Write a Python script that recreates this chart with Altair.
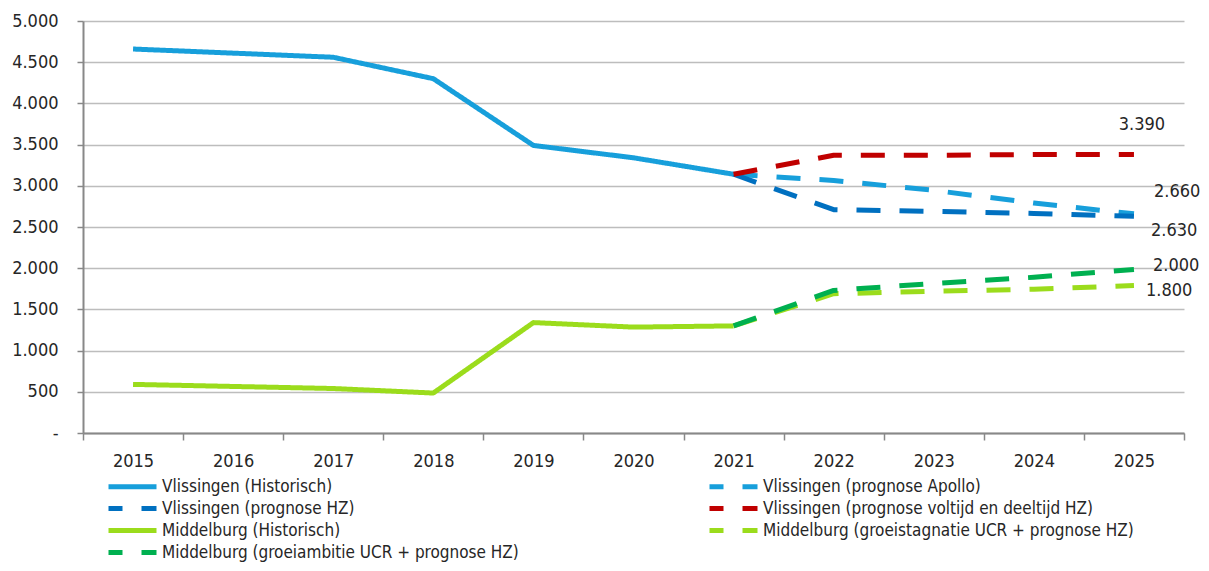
import altair as alt
import pandas as pd

FONT = "DejaVu Sans Condensed, sans-serif"

years = ["2015", "2016", "2017", "2018", "2019", "2020", "2021", "2022", "2023", "2024", "2025"]
hist_years = years[:7]
prog_years = years[6:]

series_names = [
    "Vlissingen (Historisch)",
    "Vlissingen (prognose Apollo)",
    "Vlissingen (prognose HZ)",
    "Vlissingen (prognose voltijd en deeltijd HZ)",
    "Middelburg (Historisch)",
    "Middelburg (groeistagnatie UCR + prognose HZ)",
    "Middelburg (groeiambitie UCR + prognose HZ)",
]
series_colors = ["#179fdb", "#179fdb", "#0070c0", "#c00000", "#9bdc1c", "#9bdc1c", "#00b050"]
series_dash = [[1, 0], [24, 19], [24, 19], [24, 19], [1, 0], [24, 19], [24, 19]]

vl_hist = [4660, 4610, 4560, 4300, 3490, 3340, 3140]
vl_apollo = [3140, 3065, 2945, 2790, 2660]
vl_hz = [3140, 2710, 2690, 2665, 2630]
vl_voltijd = [3140, 3370, 3370, 3380, 3380]
mb_hist = [590, 565, 540, 485, 1340, 1285, 1300]
mb_stagnatie = [1300, 1690, 1720, 1745, 1790]
mb_ambitie = [1300, 1730, 1815, 1890, 1985]

label_values = [3390, 2660, 2630, 2000, 1800]
label_dx = [8, 20, 17, 19, 12]
label_dy = [-29, -22, 15, -2, 6]
label_align = ["center", "left", "left", "left", "left"]

rows = []
for name, yrs, vals in [
    (series_names[0], hist_years, vl_hist),
    (series_names[1], prog_years, vl_apollo),
    (series_names[2], prog_years, vl_hz),
    (series_names[3], prog_years, vl_voltijd),
    (series_names[4], hist_years, mb_hist),
    (series_names[5], prog_years, mb_stagnatie),
    (series_names[6], prog_years, mb_ambitie),
]:
    for y, v in zip(yrs, vals):
        rows.append({"Reeks": name, "Jaar": y, "Aantal": v})
df = pd.DataFrame(rows)

x_enc = alt.X(
    "Jaar:O",
    scale=alt.Scale(type="band", domain=years, paddingInner=0, paddingOuter=0),
    axis=alt.Axis(
        title=None, labelAngle=0, tickBand="extent", tickSize=7, tickColor="#888888",
        tickWidth=1.5, domainColor="#888888", domainWidth=2, labelPadding=12,
        labelFont=FONT, labelFontSize=18, labelColor="#262626", grid=False,
    ),
)
y_enc = alt.Y(
    "Aantal:Q",
    scale=alt.Scale(domain=[0, 5000], nice=False),
    axis=alt.Axis(
        title=None, values=list(range(0, 5001, 500)), grid=True, gridColor="#bdbdbd",
        gridWidth=1.5, tickSize=6, tickColor="#888888", tickWidth=1.5,
        domainColor="#888888", domainWidth=2, labelPadding=19, labelFont=FONT,
        labelFontSize=18, labelColor="#262626",
        labelExpr="datum.value == 0 ? '-\u00a0\u00a0\u00a0\u00a0' : replace(format(datum.value, ','), ',', '.')",
    ),
)

legend = alt.Legend(
    orient="none", legendX=25, legendY=455, columns=2, direction="horizontal", title=None,
    symbolType="M-3,0H3", symbolSize=256, symbolStrokeWidth=5, symbolOffset=14,
    symbolDashOffset=10, labelOffset=19, labelFont=FONT, labelFontSize=17,
    labelColor="#262626", labelLimit=700, rowPadding=1, columnPadding=180, padding=0,
)

lines = alt.Chart(df).mark_line(strokeWidth=5, strokeCap="butt", strokeJoin="round").encode(
    x=x_enc,
    y=y_enc,
    color=alt.Color("Reeks:N", scale=alt.Scale(domain=series_names, range=series_colors), legend=legend),
    strokeDash=alt.StrokeDash("Reeks:N", scale=alt.Scale(domain=series_names, range=series_dash), legend=legend),
)

layers = [lines]
for v, dx, dy, al in zip(label_values, label_dx, label_dy, label_align):
    ldf = pd.DataFrame({"Jaar": [years[-1]], "Aantal": [v], "Tekst": [f"{v:,}".replace(",", ".")]})
    layers.append(
        alt.Chart(ldf).mark_text(
            align=al, baseline="middle", dx=dx, dy=dy, font=FONT, fontSize=18, color="#262626"
        ).encode(x="Jaar:O", y="Aantal:Q", text="Tekst:N")
    )

chart = alt.layer(*layers).properties(
    width=1101, height=412,
    autosize=alt.AutoSizeParams(type="none"),
    padding={"left": 75, "top": 13, "right": 17, "bottom": 130},
).configure_view(stroke=None)

chart.save("out.html", embed_options={"renderer": "svg", "actions": False})
